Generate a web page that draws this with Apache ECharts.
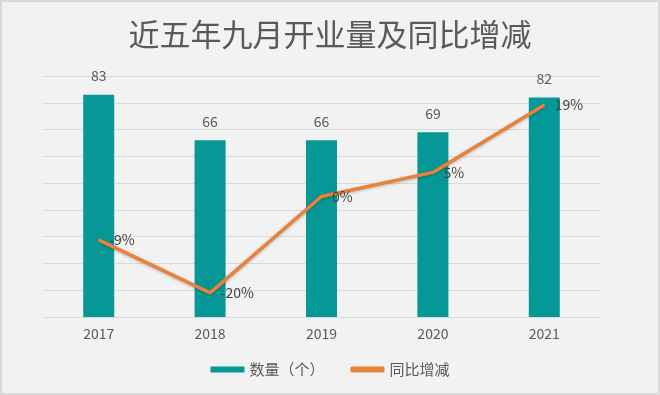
<!DOCTYPE html>
<html>
<head>
<meta charset="utf-8">
<script src="https://cdn.jsdelivr.net/npm/echarts@6/dist/echarts.min.js"></script>
<style>
html,body{margin:0;padding:0;background:#f2f2f2;}
#c{width:660px;height:395px;box-sizing:border-box;border:2px solid #d9d9d9;background:#f2f2f2;}
</style>
</head>
<body>
<div id="c"></div>
<script>
const categories = ['2017', '2018', '2019', '2020', '2021'];
const countValues = [83, 66, 66, 69, 82];
const yoyValues = [-9, -20, 0, 5, 19];
const titleText = '近五年九月开业量及同比增减';
const seriesNames = ['数量（个）', '同比增减'];

const chart = echarts.init(document.getElementById('c'), null, {renderer: 'canvas'});
const font = '"Noto Sans CJK SC", "Noto Sans", sans-serif';
chart.setOption({
  backgroundColor: '#f2f2f2',
  animation: false,
  textStyle: {fontFamily: font},
  title: {
    text: titleText,
    left: 'center',
    top: 12,
    textStyle: {fontSize: 31, fontWeight: 'normal', color: '#595959', fontFamily: font}
  },
  grid: {left: 41, right: 58, top: 74, bottom: 76},
  legend: {
    bottom: 11,
    left: 'center',
    itemWidth: 34,
    itemHeight: 6,
    itemGap: 26,
    textStyle: {fontSize: 15, color: '#595959', fontFamily: font},
    data: [
      {name: seriesNames[0], icon: 'rect'},
      {name: seriesNames[1], icon: 'roundRect'}
    ]
  },
  xAxis: {
    type: 'category',
    data: categories,
    axisLine: {show: false},
    axisTick: {show: false},
    axisLabel: {fontSize: 14, color: '#595959', margin: 10, fontFamily: font}
  },
  yAxis: [
    {
      type: 'value', min: 0, max: 90, interval: 10,
      axisLabel: {show: false},
      axisLine: {show: false},
      axisTick: {show: false},
      splitLine: {lineStyle: {color: '#d9d9d9', width: 1}}
    },
    {
      type: 'value', min: -25, max: 25, interval: 5,
      axisLabel: {show: false},
      axisLine: {show: false},
      axisTick: {show: false},
      splitLine: {show: false}
    }
  ],
  series: [
    {
      name: seriesNames[0],
      type: 'bar',
      data: countValues,
      barWidth: 31,
      itemStyle: {color: '#069896'},
      label: {show: true, position: 'top', distance: 12, fontSize: 14, color: '#595959', fontFamily: font}
    },
    {
      name: seriesNames[1],
      type: 'line',
      yAxisIndex: 1,
      data: yoyValues,
      showSymbol: true,
      symbol: 'circle',
      symbolSize: 1,
      itemStyle: {color: '#e8813a'},
      lineStyle: {color: '#e8813a', width: 3.5, shadowColor: 'rgba(0,0,0,0.25)', shadowBlur: 3, shadowOffsetY: 1},
      label: {show: true, position: 'right', distance: 10, fontSize: 14, color: '#404040', formatter: '{c}%', fontFamily: font}
    }
  ]
});
</script>
</body>
</html>
